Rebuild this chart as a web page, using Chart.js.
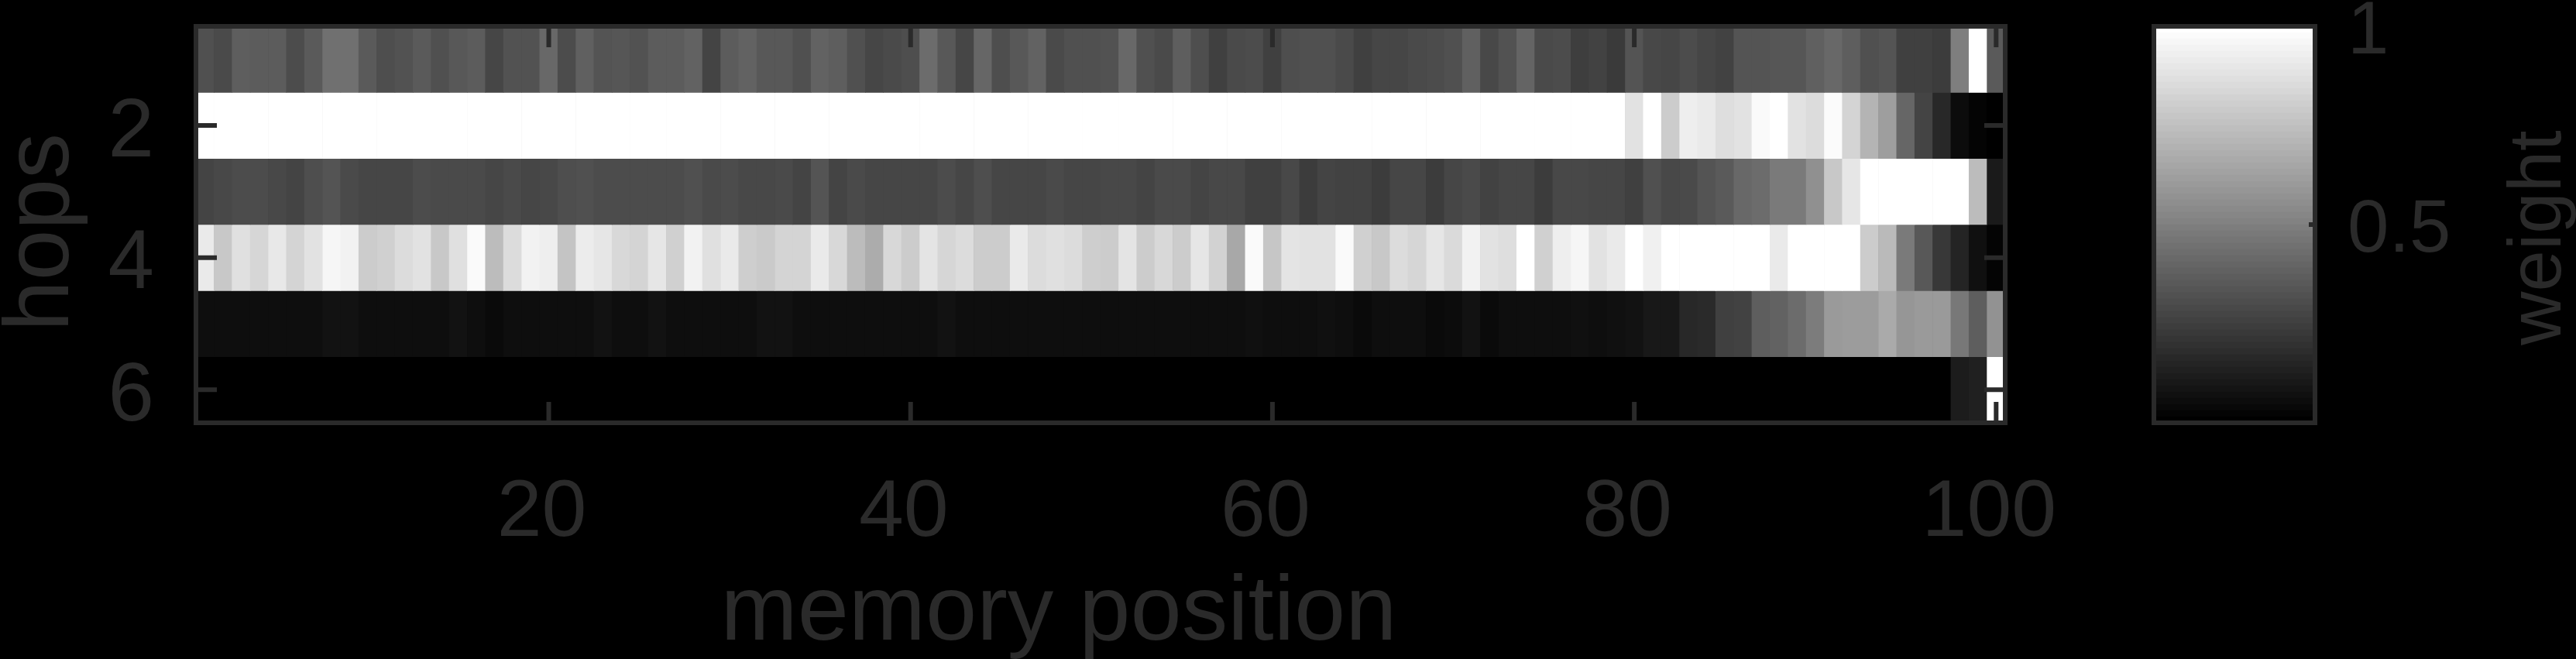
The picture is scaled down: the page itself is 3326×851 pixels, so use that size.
<!DOCTYPE html>
<html>
<head>
<meta charset="utf-8">
<title>memory position weights</title>
<script src="https://cdn.jsdelivr.net/npm/chart.js@4/dist/chart.umd.min.js"></script>
<style>
  html, body { margin: 0; padding: 0; background: #000; overflow: hidden; }
  canvas { position: absolute; left: 0; top: 0; }
</style>
</head>
<body>
<canvas id="mapChart" width="3326" height="851"></canvas>
<canvas id="barChart" width="3326" height="851"></canvas>
<script>
/* weights per hop (0 = weight 0, 255 = weight 1) */
const hop1 = [
  0x50,0x4a,0x5e,0x5c,0x5c,0x4c,0x5a,0x70,0x70,0x5a,0x4e,0x52,0x5a,0x50,0x58,0x5c,0x46,0x52,0x52,0x68,
  0x4c,0x60,0x54,0x56,0x52,0x5c,0x5c,0x62,0x44,0x5c,0x62,0x58,0x58,0x50,0x62,0x5e,0x50,0x46,0x4a,0x4e,
  0x6c,0x58,0x46,0x66,0x4e,0x58,0x62,0x4a,0x50,0x50,0x52,0x68,0x50,0x4a,0x5e,0x4e,0x40,0x4a,0x4c,0x40,
  0x4e,0x50,0x50,0x4a,0x40,0x46,0x46,0x4a,0x4c,0x50,0x60,0x48,0x52,0x64,0x4a,0x4c,0x3e,0x42,0x3a,0x54,
  0x48,0x46,0x4c,0x46,0x42,0x54,0x54,0x56,0x56,0x60,0x68,0x5e,0x50,0x54,0x40,0x40,0x3c,0x7e,0xff,0x5a];
const hop2 = [
  255,255,255,255,255,255,255,255,255,255,255,255,255,255,255,255,255,255,255,255,
  255,255,255,255,255,255,255,255,255,255,255,255,255,255,255,255,255,255,255,255,
  255,255,255,255,255,255,255,255,255,255,255,255,255,255,255,255,255,255,255,255,
  255,255,255,255,255,255,255,255,255,255,255,255,255,255,255,255,255,255,255,0xe2,
  0xff,0xcc,0xee,0xea,0xde,0xe2,0xfa,0xff,0xe2,0xdc,0xfb,0xd4,0xb4,0x9e,0x66,0x44,0x28,0x0c,0x04,0x00];
const hop3 = [
  0x44,0x48,0x4c,0x4c,0x48,0x44,0x4e,0x54,0x4a,0x46,0x46,0x46,0x4c,0x4a,0x4a,0x4a,0x46,0x4a,0x46,0x48,
  0x4e,0x50,0x4c,0x4c,0x4c,0x4c,0x4c,0x50,0x4a,0x4c,0x48,0x48,0x4a,0x44,0x54,0x44,0x4a,0x46,0x46,0x46,
  0x46,0x4c,0x46,0x4e,0x46,0x46,0x46,0x4a,0x46,0x46,0x48,0x48,0x44,0x4a,0x4a,0x44,0x48,0x48,0x40,0x40,
  0x48,0x3c,0x44,0x42,0x42,0x3c,0x46,0x46,0x3c,0x46,0x4a,0x42,0x46,0x46,0x3c,0x48,0x48,0x46,0x46,0x40,
  0x50,0x48,0x4a,0x54,0x5a,0x68,0x6c,0x7a,0x7a,0x90,0xc8,0xe6,0xff,0xff,0xff,0xff,0xff,0xff,0xbc,0x1a];
const hop4 = [
  0xea,0xc8,0xe0,0xd6,0xe8,0xd4,0xe2,0xf6,0xf2,0xcc,0xd0,0xdc,0xe2,0xc8,0xe0,0xfa,0xbc,0xdc,0xf2,0xee,
  0xc4,0xec,0xe6,0xd8,0xd4,0xe6,0xd0,0xf2,0xe0,0xea,0xce,0xca,0xd4,0xd4,0xea,0xd8,0xbc,0xac,0xd8,0xcc,
  0xe4,0xd6,0xdc,0xcc,0xcc,0xea,0xdc,0xe0,0xdc,0xce,0xcc,0xe4,0xcc,0xd8,0xcc,0xe6,0xd2,0xa8,0xfa,0xc6,
  0xe4,0xe2,0xe2,0xfa,0xd0,0xc8,0xdc,0xd6,0xe6,0xda,0xf2,0xe2,0xde,0xff,0xd0,0xee,0xf6,0xe2,0xea,0xff,
  0xf0,0xff,0xff,0xff,0xff,0xff,0xff,0xea,0xff,0xff,0xff,0xff,0xcc,0xba,0x7a,0x58,0x38,0x24,0x10,0x04];
const hop5 = [
  0x0e,0x0e,0x0e,0x0e,0x0e,0x0e,0x0e,0x12,0x12,0x0e,0x0e,0x0e,0x0e,0x0e,0x12,0x0e,0x0a,0x0e,0x0e,0x0e,
  0x0e,0x0e,0x12,0x0e,0x0e,0x12,0x0e,0x0e,0x0e,0x0e,0x0e,0x12,0x12,0x0e,0x0e,0x0e,0x0e,0x0e,0x0e,0x0e,
  0x0e,0x12,0x0e,0x0e,0x0e,0x0e,0x0e,0x0e,0x0e,0x0e,0x0e,0x0e,0x0e,0x0e,0x0e,0x0e,0x0e,0x0e,0x10,0x0e,
  0x0e,0x0e,0x10,0x0e,0x0a,0x0e,0x0e,0x0e,0x0a,0x0c,0x12,0x0a,0x0e,0x0e,0x0e,0x0e,0x10,0x0e,0x10,0x12,
  0x18,0x18,0x28,0x2a,0x40,0x42,0x5e,0x62,0x6c,0x7c,0x9a,0x9c,0x9c,0xaa,0x96,0x9a,0x9a,0x78,0x5e,0x92];
const hop6 = [
  0,0,0,0,0,0,0,0,0,0,0,0,0,0,0,0,0,0,0,0,
  0,0,0,0,0,0,0,0,0,0,0,0,0,0,0,0,0,0,0,0,
  0,0,0,0,0,0,0,0,0,0,0,0,0,0,0,0,0,0,0,0,
  0,0,0,0,0,0,0,0,0,0,0,0,0,0,0,0,0,0,0,0,
  0,0,0,0,0,0,0,0,0,0,0,0,0,0,0,0,0,0x1c,0x20,0xff];
const hops = [hop1, hop2, hop3, hop4, hop5, hop6];

const xTicks = [20, 40, 60, 80, 100];
const yTicks = [2, 4, 6];
const barTicks = [0.5, 1];

/* the grey colormap of the colorbar, dark to light */
const barLevels = [
  0,4,8,12,16,20,24,28,32,36,40,45,49,53,57,61,65,69,73,77,81,85,89,93,97,101,105,109,113,117,121,125,
  130,134,138,142,146,150,154,158,162,166,170,174,178,182,186,190,194,198,202,206,210,215,219,223,227,231,235,239,243,247,251,255];

const ink = '#2a2a2a';
const fontFamily = '"Liberation Sans", Arial, sans-serif';
const grey = v => `rgb(${v},${v},${v})`;

function text(ctx, str, x, y, size, angle) {
  ctx.save();
  ctx.translate(x, y);
  ctx.rotate(angle);
  ctx.fillStyle = ink;
  ctx.font = `${size}px ${fontFamily}`;
  ctx.textAlign = 'center';
  ctx.textBaseline = 'alphabetic';
  ctx.fillText(str, 0, 0);
  ctx.restore();
}

/* labels hang over the chart area here, so keep the layout from shrinking it */
function noPadding(s) {
  s.paddingTop = s.paddingBottom = s.paddingLeft = s.paddingRight = 0;
}

/* box, inward ticks and axis titles of the heatmap */
const mapFrame = {
  id: 'mapFrame',
  afterDatasetsDraw(chart) {
    const { ctx, chartArea: a, scales: { x, y } } = chart;
    ctx.save();
    ctx.strokeStyle = ink;
    ctx.lineWidth = 6;
    ctx.beginPath();
    xTicks.forEach(t => {
      const px = x.getPixelForValue(t);
      ctx.moveTo(px, a.top); ctx.lineTo(px, a.top + 27);
      ctx.moveTo(px, a.bottom); ctx.lineTo(px, a.bottom - 27);
    });
    yTicks.forEach(t => {
      const py = y.getPixelForValue(t);
      ctx.moveTo(a.left, py); ctx.lineTo(a.left + 27, py);
      ctx.moveTo(a.right, py); ctx.lineTo(a.right - 27, py);
    });
    ctx.stroke();
    ctx.strokeRect(a.left, a.top, a.right - a.left, a.bottom - a.top);
    ctx.restore();
    text(ctx, 'memory position', 1367, 826, 119, 0);
    text(ctx, 'hops', 88, 300, 118, -Math.PI / 2);
  },
};

new Chart(document.getElementById('mapChart'), {
  type: 'bar',
  data: {
    datasets: hops.map((row, r) => ({
      label: `hop ${r + 1}`,
      data: row.map((v, i) => ({ x: i + 1, y: [r + 0.5, r + 1.5] })),
      backgroundColor: row.map(grey),
      grouped: false,
      categoryPercentage: 1,
      barPercentage: 1,
      borderWidth: 0,
    })),
  },
  options: {
    responsive: false,
    animation: false,
    devicePixelRatio: 1,
    layout: { padding: { top: 34, right: 737, bottom: 0, left: 0 } },
    plugins: { legend: { display: false }, tooltip: { enabled: false } },
    scales: {
      x: {
        type: 'linear',
        offset: false,
        min: 0.5,
        max: 100.5,
        grid: { display: false },
        border: { display: false },
        afterBuildTicks: s => { s.ticks = xTicks.map(value => ({ value })); },
        afterFit: s => { s.height = 305; noPadding(s); },
        ticks: {
          color: ink,
          font: { family: fontFamily, size: 104 },
          padding: 47,
          labelOffset: -9,
          maxRotation: 0,
          autoSkip: false,
        },
      },
      y: {
        type: 'linear',
        reverse: true,
        min: 0.5,
        max: 6.5,
        grid: { display: false },
        border: { display: false },
        afterBuildTicks: s => { s.ticks = yTicks.map(value => ({ value })); },
        afterFit: s => { s.width = 253; noPadding(s); },
        ticks: {
          color: ink,
          font: { family: fontFamily, size: 107 },
          padding: 46,
          labelOffset: 10,
          autoSkip: false,
        },
      },
    },
  },
  plugins: [mapFrame],
});

/* box, the one tick and title of the colorbar */
const barFrame = {
  id: 'barFrame',
  afterDatasetsDraw(chart) {
    const { ctx, chartArea: a, scales: { y } } = chart;
    ctx.save();
    ctx.strokeStyle = ink;
    ctx.lineWidth = 6;
    ctx.beginPath();
    barTicks.forEach(t => {
      const py = y.getPixelForValue(t);
      ctx.moveTo(a.right, py); ctx.lineTo(a.right - 8, py);
    });
    ctx.stroke();
    ctx.strokeRect(a.left, a.top, a.right - a.left, a.bottom - a.top);
    ctx.restore();
    text(ctx, 'weight', 3306, 307, 96, -Math.PI / 2);
  },
};

new Chart(document.getElementById('barChart'), {
  type: 'bar',
  data: {
    labels: ['weight'],
    datasets: barLevels.map((v, i) => ({
      data: [[i / barLevels.length, (i + 1) / barLevels.length]],
      backgroundColor: grey(v),
      grouped: false,
      categoryPercentage: 1,
      barPercentage: 1,
      borderWidth: 0,
    })),
  },
  options: {
    responsive: false,
    animation: false,
    devicePixelRatio: 1,
    layout: { padding: { top: 34, right: 0, bottom: 305, left: 2781 } },
    plugins: { legend: { display: false }, tooltip: { enabled: false } },
    scales: {
      x: { display: false },
      y: {
        position: 'right',
        min: 0,
        max: 1,
        grid: { display: false },
        border: { display: false },
        afterBuildTicks: s => { s.ticks = barTicks.map(value => ({ value })); },
        afterFit: s => { s.width = 337; noPadding(s); },
        ticks: {
          color: ink,
          font: { family: fontFamily, size: 96 },
          padding: 34,
          labelOffset: 9,
          autoSkip: false,
          callback: v => String(v),
        },
      },
    },
  },
  plugins: [barFrame],
});
</script>
</body>
</html>
